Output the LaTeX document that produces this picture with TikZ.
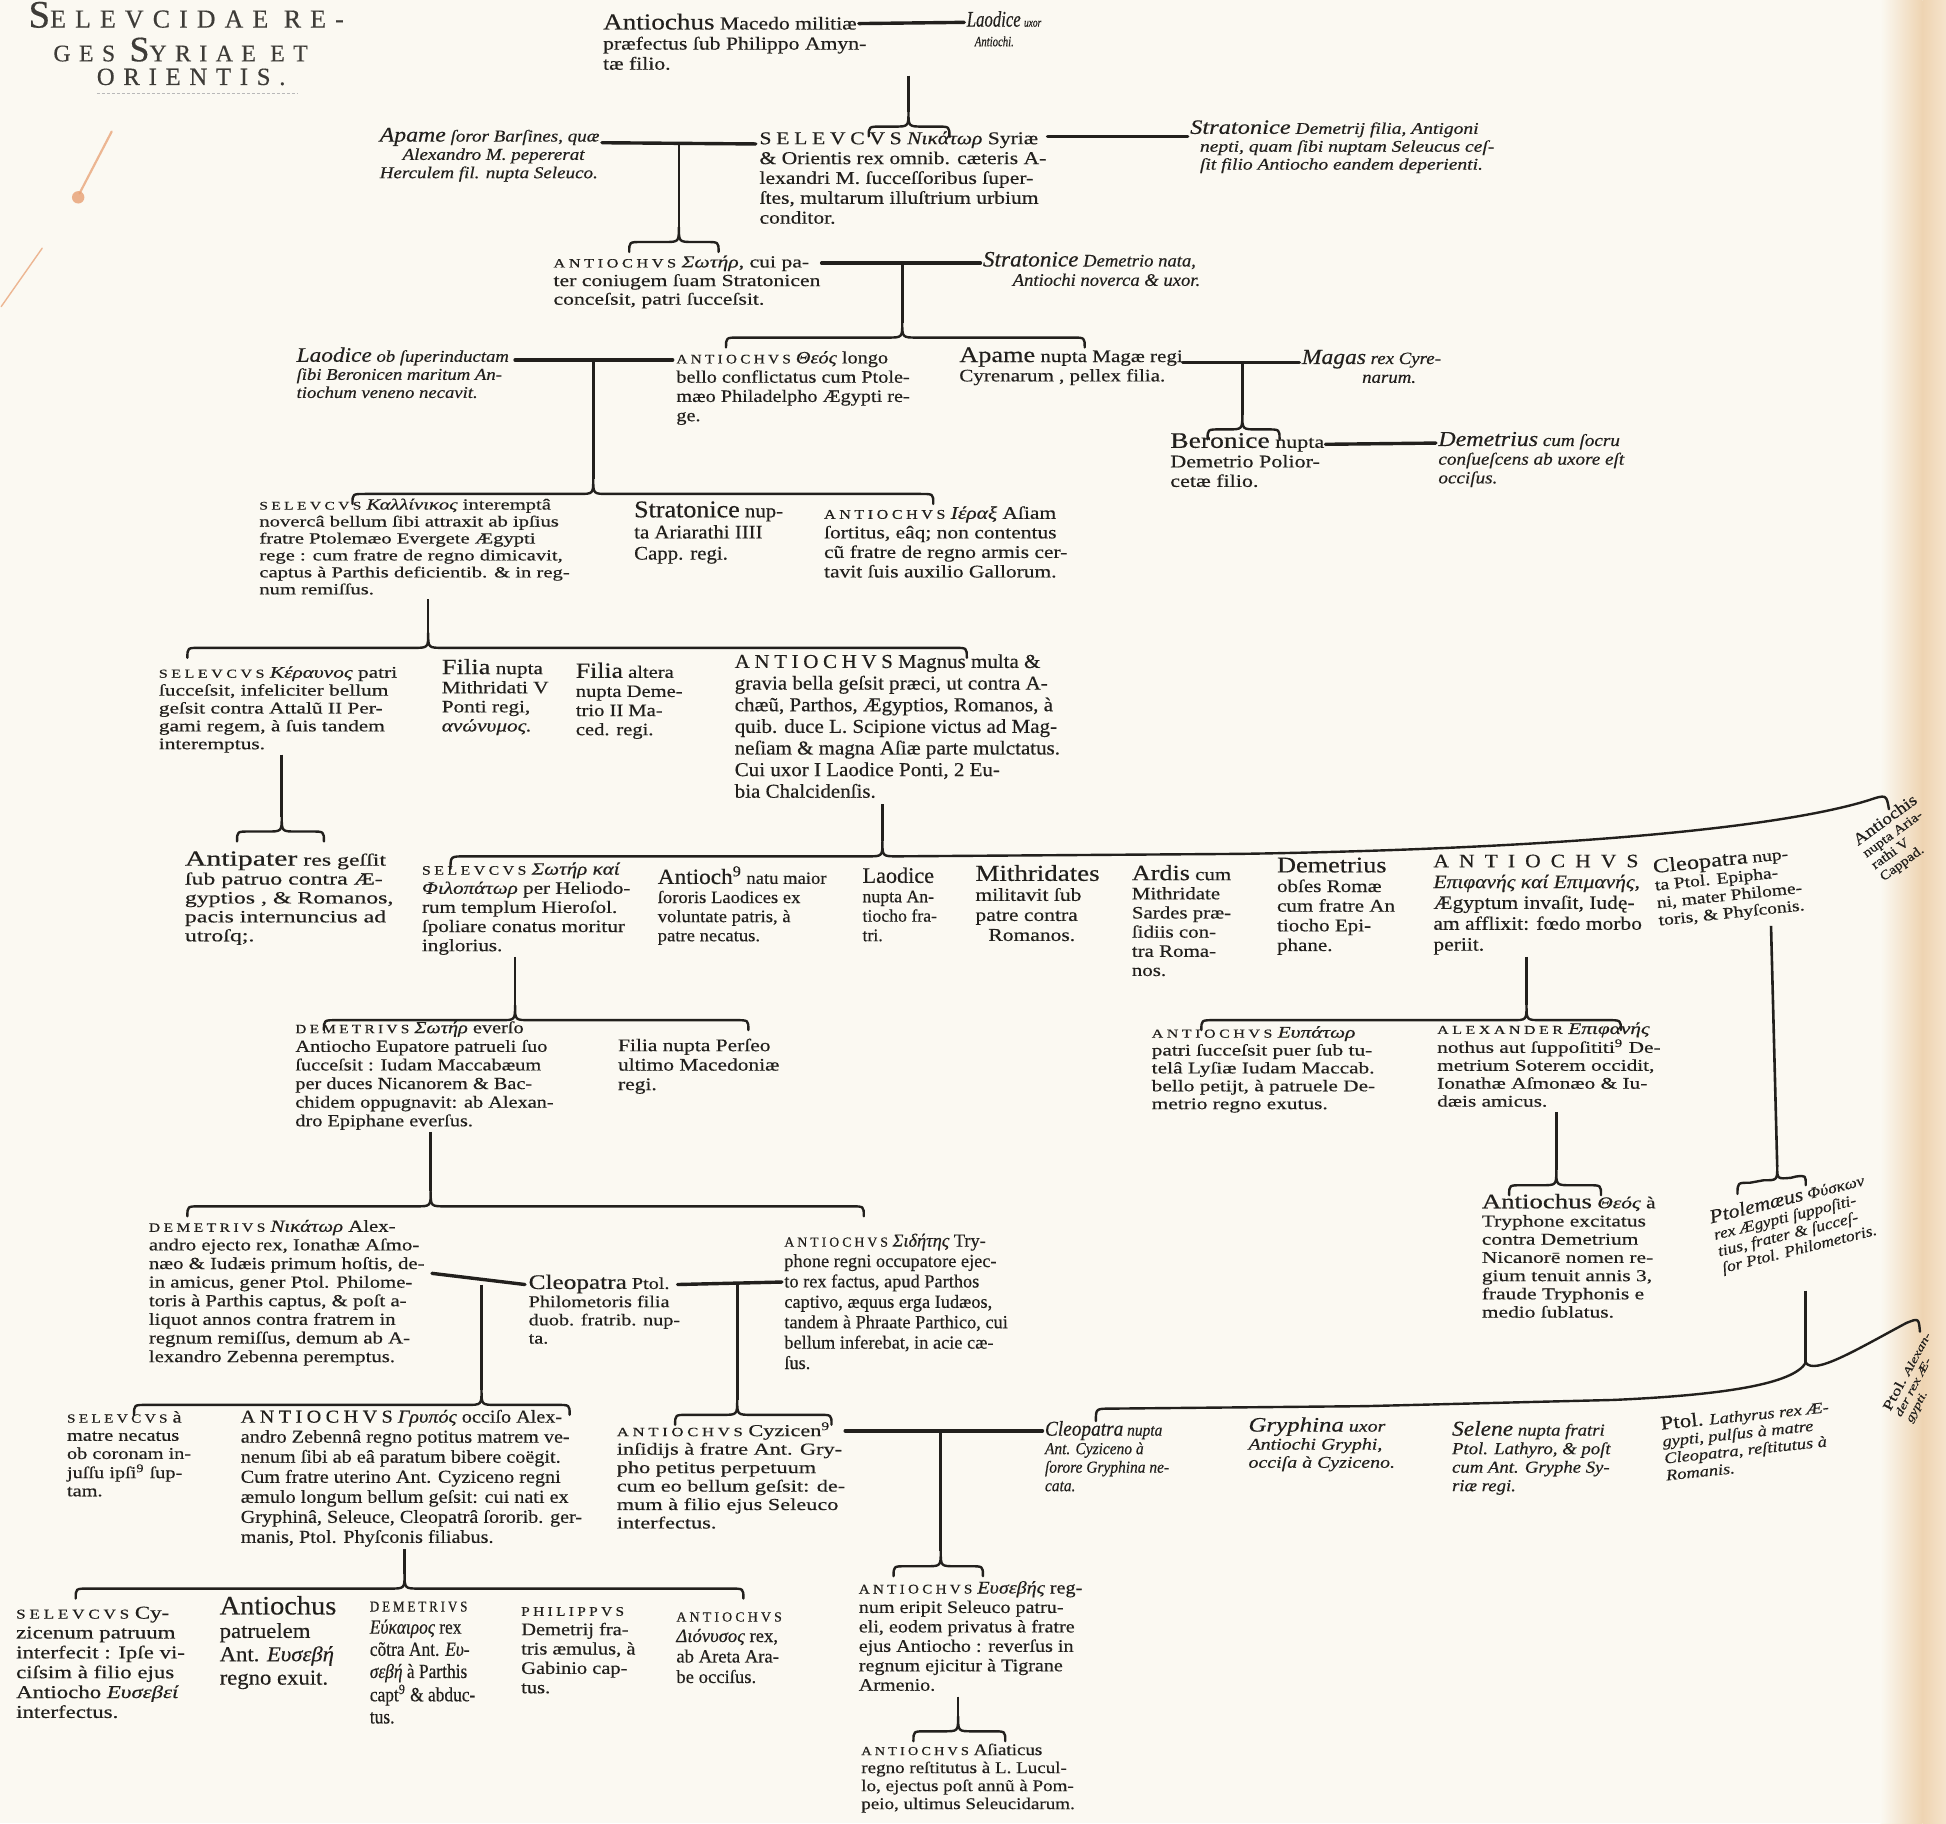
\documentclass[tikz,border=0pt]{standalone}
\usepackage{fontspec}
\usepackage{graphicx}
\setmainfont{Liberation Serif}[FakeBold=0.4]
\newfontfamily\capsf[LetterSpace=22,FakeBold=0.4]{Liberation Serif}
\newfontfamily\titf[LetterSpace=35,FakeBold=0.3]{Liberation Serif}
\usetikzlibrary{calc}
\definecolor{inkc}{RGB}{34,32,29}
\definecolor{titlec}{RGB}{62,60,56}
\definecolor{paper}{RGB}{251,249,242}
\definecolor{gutter}{RGB}{238,212,178}
\definecolor{gutterb}{RGB}{246,228,204}
\definecolor{stainc}{RGB}{232,160,115}
\newdimen\pxu \pxu=1.241pt
\newcommand\bx[3]{\resizebox*{#1\pxu}{#2\pxu}{\fontsize{10}{10}\selectfont\begin{tabular}{@{}l@{}}#3\end{tabular}}}
\newcommand\nm[1]{{\fontsize{12.5}{10}\selectfont #1}}
\newcommand\kap[1]{{\capsf\fontsize{7.5}{10}\selectfont #1}}
\newcommand\kapL[1]{{\capsf\fontsize{10}{10}\selectfont #1}}
\renewcommand\arraystretch{1.1}
\newcommand\brc[5]{%
 \coordinate (#1) at (#3,#5-12);
 \draw[brace] (#2,#5+8) .. controls (#2,#5) .. (#2+10,#5) -- (#3-12,#5) .. controls (#3,#5) .. (#1) .. controls (#3,#5) .. (#3+12,#5) -- (#4-10,#5) .. controls (#4,#5) .. (#4,#5+8);}
\begin{document}
\begin{tikzpicture}[x=1.241pt,y=-1.241pt,
  blk/.style={inner sep=0pt,outer sep=0pt,anchor=north west,text=inkc},
  rblk/.style={inner sep=0pt,outer sep=0pt,anchor=center,text=inkc},
  ttl/.style={inner sep=0pt,outer sep=0pt,anchor=west,text=titlec},
  marr/.style={draw=inkc,line width=3.4pt,line cap=round},
  conn/.style={draw=inkc,line width=2.6pt},
  brace/.style={draw=inkc,line width=2.4pt,line cap=round,line join=round},
  stain/.style={draw=stainc,line cap=round,opacity=0.75}]
\useasboundingbox (0,0) rectangle (1568,1469);
\fill[fill=paper] (0,0) rectangle (1568,1469);
\shade[left color=paper,right color=gutter] (1515,0) rectangle (1549,1469);
\shade[left color=gutter,right color=gutterb] (1549,0) rectangle (1568,1469);
% stains
\draw[stain,line width=2.2pt] (90,106) -- (64,156);
\fill[stainc,opacity=0.8] (63,159) circle[radius=5];
\draw[stain,line width=1.4pt] (34,200) -- (1,247);
% title
\node[ttl] (T1) at (23,12) {\resizebox{254\pxu}{!}{{\fontsize{21}{21}\selectfont S}{\titf\fontsize{14}{14}\selectfont ELEVCIDAE RE-}}};
\node[ttl] (T2) at (43,40) {\resizebox{205\pxu}{!}{{\titf\fontsize{14}{14}\selectfont GES }{\fontsize{21}{21}\selectfont S}{\titf\fontsize{14}{14}\selectfont YRIAE ET}}};
\node[ttl] (T3) at (78,62) {\resizebox{152\pxu}{!}{{\titf\fontsize{14}{14}\selectfont ORIENTIS.}}};
\draw[gray!55,line width=0.5pt,dash pattern=on 3pt off 2pt] ($(T3.south west)+(0,6)$) -- ($(T3.south east)+(10,6)$);

% ---------- nodes ----------
\node[blk] (A1) at (486,11) {\bx{212}{50}{\nm{Antiochus} Macedo militiæ\\ præfectus ſub Philippo Amyn-\\ tæ filio.}};
\node[blk] (LA) at (779,9) {\bx{60}{33}{\textit{\nm{Laodice} {\fontsize{7}{10}\selectfont uxor}}\\ \hspace*{0.6em}\textit{\fontsize{8}{10}\selectfont Antiochi.}}};
\node[blk] (AP) at (306,103) {\bx{177}{45}{\textit{\nm{Apame} ſoror Barſines, quæ}\\ \hspace*{1.2em}\textit{Alexandro M. pepererat}\\ \textit{Herculem fil. nupta Seleuco.}}};
\node[blk] (S1) at (612,105) {\bx{231}{80}{\kapL{SELEVCVS} \textit{Νικάτωρ} Syriæ\\ \& Orientis rex omnib. cæteris A-\\ lexandri M. ſucceſſoribus ſuper-\\ ſtes, multarum illuſtrium urbium\\ conditor.}};
\node[blk] (ST1) at (959,97) {\bx{245}{44}{\textit{\nm{Stratonice} Demetrij filia, Antigoni}\\ \hspace*{0.5em}\textit{nepti, quam ſibi nuptam Seleucus ceſ-}\\ \hspace*{0.5em}\textit{ſit filio Antiocho eandem deperienti.}}};
\node[blk] (AS) at (446,205) {\bx{215}{45}{\kap{ANTIOCHVS} \textit{Σωτήρ}, cui pa-\\ ter coniugem ſuam Stratonicen\\ conceſsit, patri ſucceſsit.}};
\node[blk] (ST2) at (792,203) {\bx{175}{32}{\textit{\nm{Stratonice} Demetrio nata,}\\ \hspace*{1.6em}\textit{Antiochi noverca \& uxor.}}};
\node[blk] (LD) at (239,280) {\bx{171}{45}{\textit{\nm{Laodice} ob ſuperinductam}\\ \textit{ſibi Beronicen maritum An-}\\ \textit{tiochum veneno necavit.}}};
\node[blk] (AT) at (545,282) {\bx{188}{62}{\kap{ANTIOCHVS} \textit{Θεός} longo\\ bello conflictatus cum Ptole-\\ mæo Philadelpho Ægypti re-\\ ge.}};
\node[blk] (AP2) at (773,280) {\bx{180}{32}{\nm{Apame} nupta Magæ regi\\ Cyrenarum , pellex filia.}};
\node[blk] (MG) at (1049,282) {\bx{112}{31}{\textit{\nm{Magas} rex Cyre-}\\ \hspace*{3.2em}\textit{narum.}}};
\node[blk] (BR) at (943,349) {\bx{124}{48}{\nm{Beronice} nupta\\ Demetrio Polior-\\ cetæ filio.}};
\node[blk] (DM) at (1159,348) {\bx{150}{46}{\textit{\nm{Demetrius} cum ſocru}\\ \textit{conſueſcens ab uxore eſt}\\ \textit{occiſus.}}};

\node[blk] (SC) at (209,401) {\bx{250}{82}{\kap{SELEVCVS} \textit{Καλλίνικος} interemptâ\\ novercâ bellum ſibi attraxit ab ipſius\\ fratre Ptolemæo Evergete Ægypti\\ rege : cum fratre de regno dimicavit,\\ captus à Parthis deficientib. \& in reg-\\ num remiſſus.}};
\node[blk] (SN) at (511,404) {\bx{120}{52}{\nm{Stratonice} nup-\\ ta Ariarathi IIII\\ Capp. regi.}};
\node[blk] (AH) at (664,407) {\bx{196}{63}{\kap{ANTIOCHVS} \textit{Ιέραξ} Aſiam\\ ſortitus, eâq; non contentus\\ cũ fratre de regno armis cer-\\ tavit ſuis auxilio Gallorum.}};

\node[blk] (SK) at (128,536) {\bx{192}{72}{\kap{SELEVCVS} \textit{Κέραυνος} patri\\ ſucceſsit, infeliciter bellum\\ geſsit contra Attalũ II Per-\\ gami regem, à ſuis tandem\\ interemptus.}};
\node[blk] (F1) at (356,531) {\bx{86}{63}{\nm{Filia} nupta\\ Mithridati V\\ Ponti regi,\\ \textit{ανώνυμος.}}};
\node[blk] (F2) at (464,534) {\bx{86}{63}{\nm{Filia} altera\\ nupta Deme-\\ trio II Ma-\\ ced. regi.}};
\node[blk] (AM) at (592,526) {\bx{262}{122}{\kapL{ANTIOCHVS} Magnus multa \&\\ gravia bella geſsit præci, ut contra A-\\ chæũ, Parthos, Ægyptios, Romanos, à\\ quib. duce L. Scipione victus ad Mag-\\ neſiam \& magna Aſiæ parte mulctatus.\\ Cui uxor I Laodice Ponti, 2 Eu-\\ bia Chalcidenſis.}};

\node[blk] (AN) at (149,686) {\bx{168}{77}{\nm{Antipater} res geſſit\\ ſub patruo contra Æ-\\ gyptios , \& Romanos,\\ pacis internuncius ad\\ utroſq;.}};
\node[blk] (SP) at (340,694) {\bx{168}{77}{\kap{SELEVCVS} \textit{Σωτήρ καί}\\ \textit{Φιλοπάτωρ} per Heliodo-\\ rum templum Hieroſol.\\ ſpoliare conatus moritur\\ inglorius.}};
\node[blk] (MA) at (530,698) {\bx{136}{65}{\nm{Antioch\textsuperscript{9}} natu maior\\ ſororis Laodices ex\\ voluntate patris, à\\ patre necatus.}};
\node[blk] (LN) at (695,699) {\bx{60}{64}{\nm{Laodice}\\ nupta An-\\ tiocho fra-\\ tri.}};
\node[blk] (MI) at (786,697) {\bx{100}{66}{\nm{Mithridates}\\ militavit ſub\\ patre contra\\ \hspace*{0.6em}Romanos.}};
\node[blk] (AR) at (912,697) {\bx{80}{94}{\nm{Ardis} cum\\ Mithridate\\ Sardes præ-\\ ſidiis con-\\ tra Roma-\\ nos.}};
\node[blk] (DO) at (1029,691) {\bx{95}{80}{\nm{Demetrius}\\ obſes Romæ\\ cum fratre An\\ tiocho Epi-\\ phane.}};
\node[blk] (AE) at (1155,687) {\bx{168}{84}{\kapL{A N T I O C H V S}\\ \textit{Επιφανής καί Επιμανής},\\ Ægyptum invaſit, Iudę-\\ am afflixit: fœdo morbo\\ periit.}};
\node[rblk,rotate=6] (CL) at (1393,715) {\bx{118}{58}{\nm{Cleopatra} nup-\\ ta Ptol. Epipha-\\ ni, mater Philome-\\ toris, \& Phyſconis.}};
\node[rblk,rotate=36] (AC) at (1530,676) {\bx{60}{48}{\nm{Antiochis}\\ nupta Aria-\\ rathi V\\ Cappad.}};

\node[blk] (DS) at (238,822) {\bx{208}{90}{\kap{DEMETRIVS} \textit{Σωτήρ} everſo\\ Antiocho Eupatore patrueli ſuo\\ ſucceſsit : Iudam Maccabæum\\ per duces Nicanorem \& Bac-\\ chidem oppugnavit: ab Alexan-\\ dro Epiphane everſus.}};
\node[blk] (FP) at (498,836) {\bx{130}{47}{Filia nupta Perſeo\\ ultimo Macedoniæ\\ regi.}};
\node[blk] (EU) at (928,826) {\bx{180}{72}{\kap{ANTIOCHVS} \textit{Ευπάτωρ}\\ patri ſucceſsit puer ſub tu-\\ telâ Lyſiæ Iudam Maccab.\\ bello petijt, à patruele De-\\ metrio regno exutus.}};
\node[blk] (AX) at (1158,823) {\bx{180}{73}{\kap{ALEXANDER} \textit{Επιφανής}\\ nothus aut ſuppoſititi\textsuperscript{9} De-\\ metrium Soterem occidit,\\ Ionathæ Aſmonæo \& Iu-\\ dæis amicus.}};

\node[blk] (DN) at (120,982) {\bx{222}{120}{\kap{DEMETRIVS} \textit{Νικάτωρ} Alex-\\ andro ejecto rex, Ionathæ Aſmo-\\ næo \& Iudæis primum hoſtis, de-\\ in amicus, gener Ptol. Philome-\\ toris à Parthis captus, \& poſt a-\\ liquot annos contra fratrem in\\ regnum remiſſus, demum ab A-\\ lexandro Zebenna peremptus.}};
\node[blk] (CP) at (426,1027) {\bx{122}{60}{\nm{Cleopatra} Ptol.\\ Philometoris filia\\ duob. fratrib. nup-\\ ta.}};
\node[blk] (SD) at (632,993) {\bx{180}{115}{\kap{ANTIOCHVS} \textit{Σιδήτης} Try-\\ phone regni occupatore ejec-\\ to rex factus, apud Parthos\\ captivo, æquus erga Iudæos,\\ tandem à Phraate Parthico, cui\\ bellum inferebat, in acie cæ-\\ ſus.}};
\node[blk] (TA) at (1194,962) {\bx{140}{104}{\nm{Antiochus} \textit{Θεός} à\\ Tryphone excitatus\\ contra Demetrium\\ Nicanorē nomen re-\\ gium tenuit annis 3,\\ fraude Tryphonis e\\ medio ſublatus.}};
\node[rblk,rotate=14] (PP) at (1445,987) {\bx{128}{56}{\textit{\nm{Ptolemæus} Φύσκων}\\ \textit{rex Ægypti ſuppoſiti-}\\ \textit{tius, frater \& ſucceſ-}\\ \textit{ſor Ptol. Philometoris.}}};

\node[blk] (SM) at (54,1136) {\bx{100}{74}{\kap{SELEVCVS} à\\ matre necatus\\ ob coronam in-\\ juſſu ipſi\textsuperscript{9} ſup-\\ tam.}};
\node[blk] (AG) at (194,1135) {\bx{275}{113}{\kapL{ANTIOCHVS} \textit{Γρυπός} occiſo Alex-\\ andro Zebennâ regno potitus matrem ve-\\ nenum ſibi ab eâ paratum bibere coëgit.\\ Cum fratre uterino Ant. Cyziceno regni\\ æmulo longum bellum geſsit: cui nati ex\\ Gryphinâ, Seleuce, Cleopatrâ ſororib. ger-\\ manis, Ptol. Phyſconis filiabus.}};
\node[blk] (AZ) at (497,1146) {\bx{184}{90}{\kap{ANTIOCHVS} Cyzicen\textsuperscript{9}\\ inſidijs à fratre Ant. Gry-\\ pho petitus perpetuum\\ cum eo bellum geſsit: de-\\ mum à filio ejus Seleuco\\ interfectus.}};
\node[blk] (CN) at (842,1145) {\bx{100}{61}{\textit{\nm{Cleopatra} nupta}\\ \textit{Ant. Cyziceno à}\\ \textit{ſorore Gryphina ne-}\\ \textit{cata.}}};
\node[blk] (GR) at (1006,1142) {\bx{118}{45}{\textit{\nm{Gryphina} uxor}\\ \textit{Antiochi Gryphi,}\\ \textit{occiſa à Cyziceno.}}};
\node[blk] (SL) at (1170,1145) {\bx{128}{61}{\textit{\nm{Selene} nupta fratri}\\ \textit{Ptol. Lathyro, \& poſt}\\ \textit{cum Ant. Gryphe Sy-}\\ \textit{riæ regi.}}};
\node[rblk,rotate=6] (PL) at (1408,1162) {\bx{136}{56}{\nm{Ptol.} \textit{Lathyrus rex Æ-}\\ \textit{gypti, pulſus à matre}\\ \textit{Cleopatra, reſtitutus à}\\ \textit{Romanis.}}};
\node[rblk,rotate=62] (PA) at (1546,1110) {\bx{70}{30}{\nm{Ptol.} \textit{Alexan-}\\ \textit{der rex Æ-}\\ \textit{gypti.}}};

\node[blk] (SY) at (13,1293) {\bx{136}{96}{\kap{SELEVCVS} Cy-\\ zicenum patruum\\ interfecit : Ipſe vi-\\ ciſsim à filio ejus\\ Antiocho \textit{Ευσεβεί}\\ interfectus.}};
\node[blk] (AP3) at (177,1286) {\bx{94}{77}{\nm{Antiochus}\\ patruelem\\ Ant. \textit{Ευσεβή}\\ regno exuit.}};
\node[blk] (DE) at (298,1286) {\bx{85}{108}{\kap{DEMETRIVS}\\ \textit{Εύκαιρος} rex\\ cõtra Ant. \textit{Ευ-}\\ \textit{σεβή} à Parthis\\ capt\textsuperscript{9} \& abduc-\\ tus.}};
\node[blk] (PH) at (420,1291) {\bx{92}{78}{\kap{PHILIPPVS}\\ Demetrij fra-\\ tris æmulus, à\\ Gabinio cap-\\ tus.}};
\node[blk] (AD) at (545,1295) {\bx{85}{66}{\kap{ANTIOCHVS}\\ \textit{Διόνυσος} rex,\\ ab Areta Ara-\\ be occiſus.}};
\node[blk] (EB) at (692,1273) {\bx{180}{94}{\kap{ANTIOCHVS} \textit{Ευσεβής} reg-\\ num eripit Seleuco patru-\\ eli, eodem privatus à fratre\\ ejus Antiocho : reverſus in\\ regnum ejicitur à Tigrane\\ Armenio.}};
\node[blk] (AA) at (694,1404) {\bx{172}{58}{\kap{ANTIOCHVS} Aſiaticus\\ regno reſtitutus à L. Lucul-\\ lo, ejectus poſt annũ à Pom-\\ peio, ultimus Seleucidarum.}};

% ---------- marriage lines ----------
\coordinate (m1a) at ($(A1.north east)+(-6,8)$);  \coordinate (m1b) at ($(LA.north west)+(-2,9)$);
\coordinate (m2a) at ($(AP.north east)+(2,12)$);  \coordinate (m2b) at ($(S1.north west)+(-3,11)$);
\coordinate (m3a) at ($(S1.north east)+(1,5)$);   \coordinate (m3b) at ($(ST1.north west)+(-2,13)$);
\coordinate (m4a) at ($(AS.north east)+(1,7)$);   \coordinate (m4b) at ($(ST2.north west)+(-2,9)$);
\coordinate (m5a) at ($(LD.north east)+(5,10)$);  \coordinate (m5b) at ($(AT.north west)+(-3,8)$);
\coordinate (m6a) at ($(AP2.north east)+(0,12)$); \coordinate (m6b) at ($(MG.north west)+(-2,10)$);
\coordinate (m7a) at ($(BR.north east)+(1,9)$);   \coordinate (m7b) at ($(DM.north west)+(-2,9)$);
\coordinate (m8a) at ($(DN.north east)+(6,44)$);  \coordinate (m8b) at ($(CP.north west)+(-3,8)$);
\coordinate (m9a) at ($(CP.north east)+(-2,8)$);  \coordinate (m9b) at ($(SD.north west)+(-2,40)$);
\coordinate (m10a) at ($(AZ.north east)+(0,7)$);  \coordinate (m10b) at ($(CN.north west)+(-2,8)$);
\foreach \i in {1,...,10} {\draw[marr] (m\i a) -- (m\i b);}

% ---------- braces ----------
\brc{b1}{700}{732}{765}{102}
\brc{b2}{507}{547}{579}{195}
\brc{b3}{585}{727}{874}{272}
\brc{b4}{973}{1001}{1031}{346}
\brc{b5}{284}{478}{752}{398}
\brc{b6}{151}{345}{779}{522}
\brc{b7}{191}{227}{261}{670}
\brc{b9}{261}{415}{603}{822}
\brc{b10}{968}{1230}{1306}{822}
\brc{b12}{151}{347}{696}{972}
\brc{b13}{1216}{1254}{1290}{955}
\brc{b14}{108}{388}{459}{1132}
\brc{b15}{544}{594}{670}{1140}
\brc{b17}{61}{326}{599}{1280}
\brc{b18}{720}{758}{792}{1262}
\brc{b19}{736}{772}{810}{1395}
% long brace of Antiochus Magnus' children
\coordinate (b8) at (711,678);
\draw[brace] (363,700) .. controls (363,690) .. (375,690) -- (699,690) .. controls (711,690) .. (b8) .. controls (711,690) .. (723,690) -- (1000,688) .. controls (1250,684) and (1430,668) .. (1505,645) .. controls (1520,640) .. (1522,652);
% brace under Cleopatra -> Ptolemaeus Physcon
\coordinate (b11) at (1432,940);
\draw[brace] (1400,962) .. controls (1400,953) .. (1410,953) -- (1421,951) .. controls (1432,951) .. (b11) .. controls (1432,950) .. (1443,949) -- (1447,948) .. controls (1455,947) .. (1455,955);
% brace of Ptolemaeus Physcon's children
\coordinate (b16) at (1455,1098);
\draw[brace] (883,1145) .. controls (883,1135) .. (895,1135) -- (1100,1133) -- (1300,1128) .. controls (1390,1124) and (1445,1115) .. (b16) .. controls (1462,1108) and (1495,1088) .. (1536,1066) .. controls (1546,1062) .. (1547,1073);

% ---------- descent lines ----------
\draw[conn] (b1 |- A1.south) -- (b1);
\draw[conn] (b2 |- m2a) -- (b2);
\draw[conn] (b3 |- m4a) -- (b3);
\draw[conn] (b4 |- m6a) -- (b4);
\draw[conn] (b5 |- m5a) -- (b5);
\draw[conn] (b6 |- SC.south) -- (b6);
\draw[conn] (b7 |- SK.south) -- (b7);
\draw[conn] (b8 |- AM.south) -- (b8);
\draw[conn] (b9 |- SP.south) -- (b9);
\draw[conn] (b10 |- AE.south) -- (b10);
\coordinate (cl1) at (1427,746);
\draw[conn] (cl1) -- (b11);
\draw[conn] (b12 |- DS.south) -- (b12);
\draw[conn] (b13 |- AX.south) -- (b13);
\draw[conn] (b14 |- m8b) -- (b14);
\draw[conn] (b15 |- m9a) -- (b15);
\coordinate (pp1) at (1455,1040);
\draw[conn] (pp1) -- (b16);
\draw[conn] (b17 |- AG.south) -- (b17);
\draw[conn] (b18 |- m10a) -- (b18);
\draw[conn] (b19 |- EB.south) -- (b19);
\end{tikzpicture}
\end{document}
